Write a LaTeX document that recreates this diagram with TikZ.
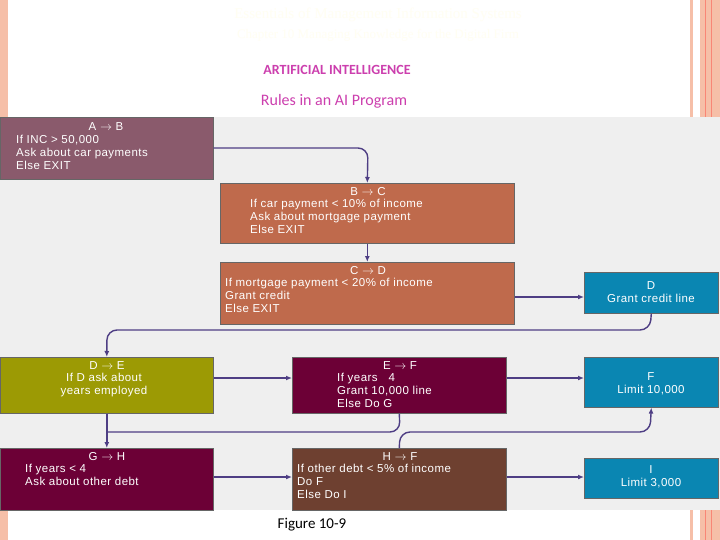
\documentclass[tikz,border=0pt]{standalone}
\usepackage{fontspec}
\setmainfont{Liberation Sans}[LetterSpace=4]
\newfontfamily\calfont{Carlito}
\newfontfamily\serfont{Liberation Serif}
\definecolor{mauve}{HTML}{8A5A6C}
\definecolor{rust}{HTML}{BF6A4C}
\definecolor{blu}{HTML}{0A86B2}
\definecolor{olive}{HTML}{9C9A04}
\definecolor{maroon}{HTML}{6C0036}
\definecolor{brwn}{HTML}{6E4030}
\definecolor{arr}{HTML}{4E3E84}
\definecolor{pnk}{HTML}{CC3FAE}
\definecolor{salmon}{HTML}{F6BFA8}
\definecolor{panel}{HTML}{EFEFEF}
\usetikzlibrary{arrows.meta}
\tikzset{
 box/.style={draw=black!60, line width=0.6pt, anchor=north west, inner sep=0pt},
 txt/.style={text=white, font=\fontsize{11.5}{13}\selectfont, inner sep=0pt, align=left, anchor=north west},
 lab/.style={text=white, font=\fontsize{11.5}{13}\selectfont, inner sep=0pt},
 con/.style={draw=arr, line width=1.4pt, -{Latex[length=6pt,width=5pt]}, rounded corners=10pt},
 lin/.style={draw=arr, line width=1.4pt, rounded corners=10pt}
}
\begin{document}
\begin{tikzpicture}[x=1pt,y=-1pt]
\useasboundingbox (0,0) rectangle (720,540);
\fill[white] (0,0) rectangle (720,540);
\fill[salmon] (0,0) rectangle (8,540);
\fill[salmon] (690,0) rectangle (693,540);
\fill[salmon] (700,0) rectangle (720,540);
\draw[salmon!70!red, line width=0.6pt] (705,0) -- (705,540) (711,0) -- (711,540);
\fill[panel] (0,117) rectangle (720,510);
\node[text=yellow!5!white, font=\serfont\fontsize{15}{15}\selectfont] (h1) at (378,15) {Essentials of Management Information Systems};
\node[text=yellow!5!white, font=\serfont\fontsize{13}{13}\selectfont] (h2) at (378,35) {Chapter 10 Managing Knowledge for the Digital Firm};
\node[text=pnk, font=\calfont\bfseries\fontsize{14}{14}\selectfont] (t1) at (337,70) {ARTIFICIAL INTELLIGENCE};
\node[text=pnk, font=\calfont\fontsize{16}{16}\selectfont] (t2) at (334,101) {Rules in an AI Program};
\node[font=\calfont\fontsize{15}{15}\selectfont] (fig) at (312,525) {Figure 10-9};
% boxes
\node[box, fill=mauve, minimum width=213pt, minimum height=62pt] (ab) at (0,117) {};
\node[box, fill=rust, minimum width=294pt, minimum height=60pt] (bc) at (220,183) {};
\node[box, fill=rust, minimum width=294pt, minimum height=62pt] (cd) at (220,262) {};
\node[box, fill=blu, minimum width=134pt, minimum height=41pt] (d) at (584,272) {};
\node[box, fill=olive, minimum width=213pt, minimum height=56pt] (de) at (0,357) {};
\node[box, fill=maroon, minimum width=214pt, minimum height=56pt] (ef) at (292,357) {};
\node[box, fill=blu, minimum width=134pt, minimum height=50pt] (f) at (584,357) {};
\node[box, fill=maroon, minimum width=213pt, minimum height=62pt] (gh) at (0,448) {};
\node[box, fill=brwn, minimum width=214pt, minimum height=62pt] (hf) at (292,448) {};
\node[box, fill=blu, minimum width=134pt, minimum height=40pt] (i) at (584,458) {};
% texts
\node[lab] (abl) at (106,127) {A $\rightarrow$ B};
\node[txt] (abt) at (16,135) {If INC > 50,000\\Ask about car payments\\Else EXIT};
\node[lab] (bcl) at (368,192) {B $\rightarrow$ C};
\node[txt] (bct) at (250,199) {If car payment < 10\% of income\\Ask about mortgage payment\\Else EXIT};
\node[lab] (cdl) at (368,271) {C $\rightarrow$ D};
\node[txt] (cdt) at (225,278) {If mortgage payment < 20\% of income\\Grant credit\\Else EXIT};
\node[lab, align=center] (dt) at (651,292) {D\\Grant credit line};
\node[lab] (del) at (107,366) {D $\rightarrow$ E};
\node[lab, align=center, anchor=north] (det) at (104,373) {If D ask about\\years employed};
\node[lab] (efl) at (400,366) {E $\rightarrow$ F};
\node[txt] (eft) at (337,373) {If years \ \ 4\\Grant 10,000 line\\Else Do G};
\node[lab, align=center] (ft) at (651,384) {F\\Limit 10,000};
\node[lab] (ghl) at (107,457) {G $\rightarrow$ H};
\node[txt] (ght) at (25,464) {If years < 4\\Ask about other debt};
\node[lab] (hfl) at (400,457) {H $\rightarrow$ F};
\node[txt] (hft) at (297,464) {If other debt < 5\% of income\\Do F\\Else Do I};
\node[lab, align=center] (it) at (651,477) {I\\Limit 3,000};
% connectors
\coordinate (j1) at (107,432);
\draw[con] (ab.east |- 0,148) -- (368,148) -- (bc.north);
\draw[con] (bc.south) -- (cd.north);
\draw[con] (cd.east |- 0,297) -- (d.west |- 0,297);
\draw[con] (d.south) -- (650,330) -- (107,330) -- (de.north);
\draw[con] (de.east |- 0,378) -- (ef.west |- 0,378);
\draw[con] (ef.east |- 0,378) -- (f.west |- 0,378);
\draw[lin] (ef.south) -- (400,432) -- (j1);
\draw[con] (de.south) -- (gh.north);
\draw[con] (gh.east |- 0,477) -- (hf.west |- 0,477);
\draw[con] (hf.east |- 0,477) -- (i.west |- 0,477);
\draw[con] (hf.north) -- (400,432) -- (650,432) -- (f.south);
\end{tikzpicture}
\end{document}
